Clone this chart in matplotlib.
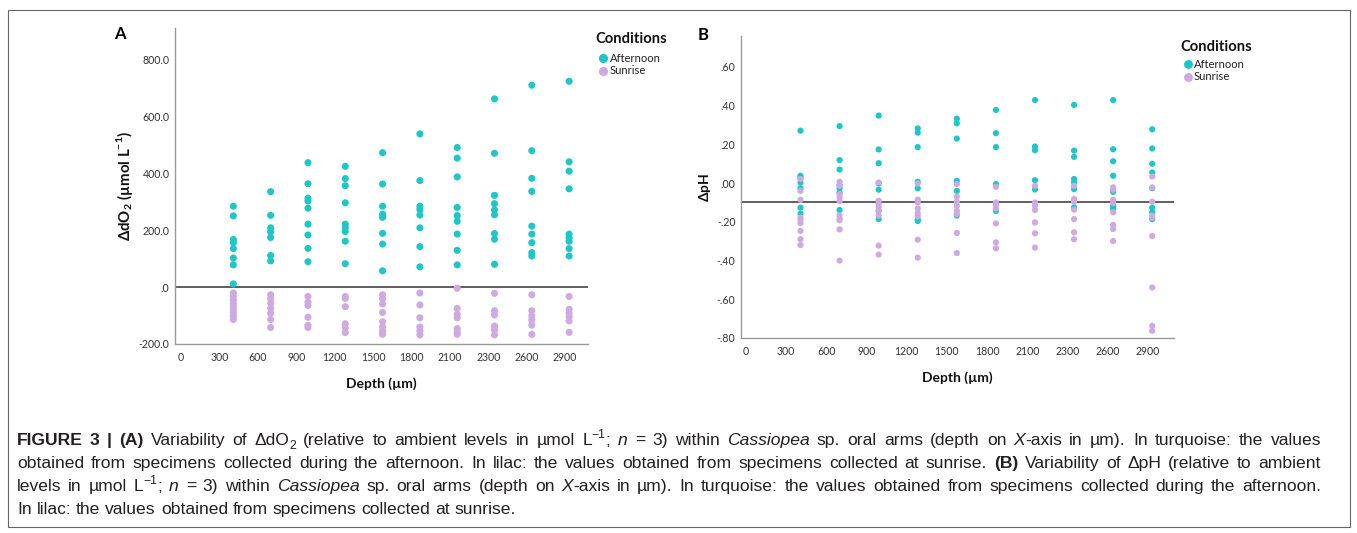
import re
import matplotlib
matplotlib.use("Agg")
import matplotlib.pyplot as plt
from matplotlib import font_manager
from matplotlib.font_manager import FontProperties
from matplotlib.lines import Line2D
from matplotlib.patches import Rectangle

# ---------------- data ----------------
depth_labels = ['0', '300', '600', '900', '1200', '1500', '1800', '2100', '2300', '2600', '2900']
condition_labels = ['Afternoon', 'Sunrise']

do2_afternoon = [
    [284, 250, 167, 156, 135, 102, 78, 11],
    [335, 252, 208, 194, 174, 111, 92],
    [437, 363, 312, 302, 277, 221, 183, 136, 89],
    [424, 381, 356, 296, 221, 209, 195, 161, 82],
    [472, 362, 284, 256, 245, 189, 151, 57],
    [538, 374, 284, 272, 253, 208, 142, 71],
    [490, 453, 387, 280, 251, 231, 186, 129, 78],
    [661, 470, 322, 293, 271, 254, 188, 168, 80],
    [709, 479, 382, 336, 214, 186, 156, 121, 109],
    [723, 440, 407, 345, 186, 173, 161, 135, 109],
]
do2_sunrise = [
    [-21, -33, -45, -58, -69, -80, -90, -102, -114],
    [-27, -41, -57, -75, -92, -114, -142],
    [-33, -53, -65, -106, -134, -142],
    [-33, -40, -69, -129, -143, -160],
    [-27, -41, -59, -89, -122, -140, -154, -166],
    [-21, -63, -108, -140, -154, -168],
    [-4, -75, -95, -108, -146, -157, -166],
    [-22, -83, -98, -137, -151, -168],
    [-27, -83, -102, -116, -134, -166],
    [-33, -78, -92, -104, -119, -159],
]
ph_afternoon = [
    [0.271, 0.038, 0.026, 0.003, -0.027, -0.127, -0.158],
    [0.295, 0.119, 0.070, -0.010, -0.027, -0.048, -0.139],
    [0.349, 0.174, 0.103, -0.002, -0.034, -0.143, -0.186],
    [0.283, 0.261, 0.186, 0.007, -0.027, -0.189, -0.196],
    [0.333, 0.309, 0.230, 0.012, -0.040, -0.168],
    [0.378, 0.258, 0.186, -0.005, -0.144],
    [0.429, 0.189, 0.170, 0.015, -0.033],
    [0.404, 0.168, 0.136, 0.021, 0.003, -0.031, -0.125],
    [0.429, 0.175, 0.113, 0.038, -0.045, -0.117, -0.131],
    [0.278, 0.179, 0.100, 0.055, -0.026, -0.127, -0.151, -0.186],
]
ph_sunrise = [
    [0.021, -0.040, -0.086, -0.177, -0.189, -0.206, -0.247, -0.290, -0.320],
    [0.007, -0.014, -0.057, -0.074, -0.093, -0.168, -0.182, -0.192, -0.239, -0.400],
    [0.003, -0.091, -0.108, -0.125, -0.143, -0.168, -0.323, -0.369],
    [-0.002, -0.086, -0.100, -0.131, -0.155, -0.172, -0.292, -0.385],
    [-0.005, -0.070, -0.096, -0.117, -0.143, -0.160, -0.258, -0.361],
    [-0.019, -0.100, -0.113, -0.131, -0.208, -0.306, -0.337],
    [-0.014, -0.100, -0.117, -0.139, -0.203, -0.259, -0.333],
    [-0.014, -0.082, -0.096, -0.137, -0.186, -0.254, -0.290],
    [-0.022, -0.034, -0.086, -0.103, -0.151, -0.216, -0.237, -0.299],
    [0.034, -0.022, -0.096, -0.168, -0.179, -0.273, -0.539, -0.737, -0.763],
]
do2_ref = 0.0
ph_ref = -0.095

do2_yticks = [800, 600, 400, 200, 0, -200]
do2_yticklabels = ['800.0', '600.0', '400.0', '200.0', '.0', '-200.0']
ph_yticks = [0.6, 0.4, 0.2, 0.0, -0.2, -0.4, -0.6, -0.8]
ph_yticklabels = ['.60', '.40', '.20', '.00', '-.20', '-.40', '-.60', '-.80']

# ---------------- style ----------------
W, H = 1357, 533
TEAL = '#1FC6C8'
LILAC = '#CFAAE2'
CHART_FONT = ['Lato', 'DejaVu Sans']

avail = {f.name for f in font_manager.fontManager.ttflist}
CAP_FAMILY = ['Liberation Sans Narrow'] if 'Liberation Sans Narrow' in avail else ['Liberation Sans']
CAP_FAMILY = CAP_FAMILY + ['DejaVu Sans']

plt.rcParams['font.family'] = CHART_FONT
plt.rcParams['mathtext.fontset'] = 'custom'
plt.rcParams['mathtext.rm'] = 'Lato'
plt.rcParams['mathtext.bf'] = 'Lato:bold'
fig = plt.figure(figsize=(W / 100, H / 100), dpi=100)


def fx(px):
    return px / W


def fy(py):
    return 1 - py / H


def make_axes(left, right, top, bottom, xlim, ylim, yticks, yticklabels, ylabel, ylabel_pad, ylabel_size):
    ax = fig.add_axes([fx(left), fy(bottom), fx(right - left), (bottom - top) / H])
    ax.set_xlim(*xlim)
    ax.set_ylim(*ylim)
    for s in ['top', 'right']:
        ax.spines[s].set_visible(False)
    for s in ['left', 'bottom']:
        ax.spines[s].set_color('#9a9a9a')
        ax.spines[s].set_linewidth(1.0)
    ax.set_xticks(range(len(depth_labels)))
    ax.set_xticklabels(depth_labels)
    ax.set_yticks(yticks)
    ax.set_yticklabels(yticklabels)
    ax.tick_params(length=0, labelsize=7.6, labelcolor='#333333', pad=4)
    ax.tick_params(axis='x', pad=6)
    ax.set_xlabel('Depth (µm)', fontsize=10, fontweight='bold', labelpad=10, color='#111111')
    ax.set_ylabel(ylabel, fontsize=ylabel_size, fontweight='bold', labelpad=ylabel_pad, color='#111111')
    return ax


def scatter_groups(ax, groups, color, size):
    for j, vals in enumerate(groups):
        pos = 1.36 + 0.972 * j
        ax.scatter([pos] * len(vals), vals, s=size, color=color, edgecolors='none', zorder=3)


def manual_legend(title_x, title_y, marker_x, text_x, ys, ms):
    fig.text(fx(title_x), fy(title_y), 'Conditions', fontsize=10.6, fontweight='bold',
             va='center', ha='left', color='#111111')
    for y, label, color in zip(ys, condition_labels, [TEAL, LILAC]):
        fig.add_artist(Line2D([fx(marker_x)], [fy(y)], marker='o', ls='', color=color,
                              markersize=ms, markeredgewidth=0, transform=fig.transFigure))
        fig.text(fx(text_x), fy(y), label, fontsize=8.1, va='center', ha='left', color='#222222')


# Panel A
axA = make_axes(175, 588, 28, 344, (-0.16, 10.6), (-200, 910), do2_yticks, do2_yticklabels,
                r'$\mathbf{\Delta}$dO$_\mathbf{2}$ (µmol L$^{\mathbf{-1}}$)', 3, 10.8)
axA.axhline(do2_ref, color='#333333', lw=1.1, zorder=2)
scatter_groups(axA, do2_afternoon, TEAL, 26)
scatter_groups(axA, do2_sunrise, LILAC, 26)
manual_legend(595, 39, 603, 610, [58, 71], 6.6)
fig.text(fx(120), fy(34), 'A', fontsize=12, fontweight='bold', va='center', ha='center')

# Panel B
axB = make_axes(741, 1174, 36, 338, (-0.12, 10.65), (-0.8, 0.76), ph_yticks, ph_yticklabels,
                r'$\mathbf{\Delta}$pH', 3, 10)
axB.axhline(ph_ref, color='#333333', lw=1.1, zorder=2)
scatter_groups(axB, ph_afternoon, TEAL, 20)
scatter_groups(axB, ph_sunrise, LILAC, 20)
manual_legend(1180, 47, 1188, 1194, [64, 77], 6.4)
fig.text(fx(703), fy(35), 'B', fontsize=12, fontweight='bold', va='center', ha='center')

# border
fig.patches.append(Rectangle((fx(8), fy(527)), (1350 - 8) / W, (527 - 10) / H,
                             transform=fig.transFigure, fill=False, edgecolor='#666666', lw=0.8))

# ---------------- caption ----------------
CAP_SIZE = 12.6
renderer = fig.canvas.get_renderer()


def fp_for(style):
    size = CAP_SIZE * (0.7 if style in ('sub', 'sup') else 1.0)
    return FontProperties(family=CAP_FAMILY, size=size,
                          weight='bold' if style == 'b' else 'normal',
                          style='italic' if style == 'i' else 'normal')


def text_w(s, fp):
    t = fig.text(0, 0, s, fontproperties=fp)
    w = t.get_window_extent(renderer).width
    t.remove()
    return w


SPACE_W = text_w('a a', fp_for('n')) - text_w('aa', fp_for('n'))


def draw_line(runs, baseline, left=17, right=1321, justify=True):
    tokens = []
    for text, style in runs:
        for part in re.split(r'( )', text):
            if part:
                tokens.append((part, style))
    widths = []
    nsp = 0
    total = 0
    for part, style in tokens:
        if part == ' ':
            nsp += 1
            widths.append(None)
        else:
            w = text_w(part, fp_for(style))
            widths.append(w)
            total += w
    gap = SPACE_W
    if justify and nsp:
        gap = (right - left - total) / nsp
    x = left
    for (part, style), w in zip(tokens, widths):
        if part == ' ':
            x += gap
            continue
        dy = 0
        if style == 'sub':
            dy = 4
        elif style == 'sup':
            dy = -6.5
        fig.text(fx(x), fy(baseline + dy), part, fontproperties=fp_for(style),
                 va='baseline', ha='left', color='#231F20')
        x += w


lines = [
    ([('FIGURE 3 | (A)', 'b'), (' Variability of ΔdO', 'n'), ('2', 'sub'),
      (' (relative to ambient levels in µmol L', 'n'), ('−1', 'sup'), ('; ', 'n'), ('n', 'i'),
      (' = 3) within ', 'n'), ('Cassiopea', 'i'), (' sp. oral arms (depth on ', 'n'), ('X', 'i'),
      ('-axis in µm). In turquoise: the values', 'n')], True),
    ([('obtained from specimens collected during the afternoon. In lilac: the values obtained from specimens collected at sunrise. ', 'n'),
      ('(B)', 'b'), (' Variability of ΔpH (relative to ambient', 'n')], True),
    ([('levels in µmol L', 'n'), ('−1', 'sup'), ('; ', 'n'), ('n', 'i'), (' = 3) within ', 'n'),
      ('Cassiopea', 'i'), (' sp. oral arms (depth on ', 'n'), ('X', 'i'),
      ('-axis in µm). In turquoise: the values obtained from specimens collected during the afternoon.', 'n')], True),
    ([('In lilac: the values obtained from specimens collected at sunrise.', 'n')], False),
]
baselines = [445, 468, 491, 514]
for (runs, just), b in zip(lines, baselines):
    draw_line(runs, b, justify=just)

fig.savefig('out.png', dpi=100)
